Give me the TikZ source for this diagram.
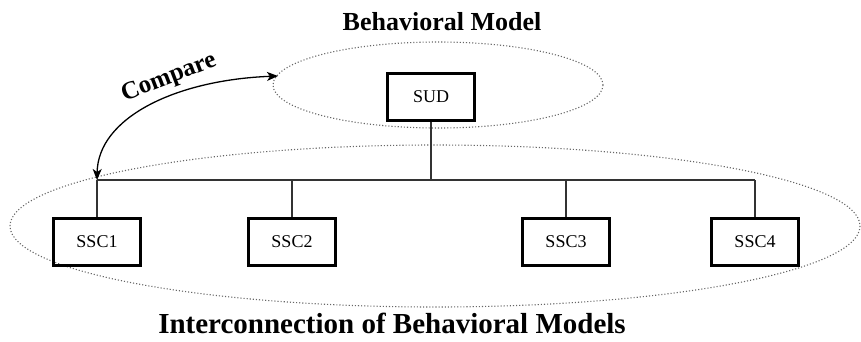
\documentclass[tikz,border=0pt]{standalone}
\usepackage{fontspec}
\setmainfont{Liberation Serif}
\usetikzlibrary{arrows.meta}
\begin{document}
\begin{tikzpicture}[x=1pt,y=-1pt,
  modbox/.style={draw=black,line width=2.4pt,minimum width=87pt,minimum height=47pt,inner sep=0pt,font=\fontsize{18}{18}\selectfont},
  wire/.style={draw=black!80,line width=1.2pt},
  region/.style={draw=black!60,line width=1.1pt,dotted},
  heading/.style={font=\bfseries\fontsize{26}{26}\selectfont},
  cmp/.style={black,line width=1.3pt,{Stealth[length=11pt,width=9pt,inset=3pt]}-{Stealth[length=11pt,width=9pt,inset=3pt]}}]
\useasboundingbox (0,0) rectangle (861,341);

% model regions
\draw[region] (438,85) ellipse [x radius=165, y radius=43];
\draw[region] (435,226) ellipse [x radius=425, y radius=81];

% headings
\node[heading] (top) at (442,22) {Behavioral Model};
\node[heading,font=\bfseries\fontsize{29}{29}\selectfont] (bottom) at (392,323) {Interconnection of Behavioral Models};

% components
\node[modbox] (sud) at (431,97) {SUD};
\node[modbox] (s1) at (97,242) {SSC1};
\node[modbox] (s2) at (292,242) {SSC2};
\node[modbox] (s3) at (566,242) {SSC3};
\node[modbox] (s4) at (755,242) {SSC4};

% bus
\coordinate (b0) at (431,180);
\coordinate (b1) at (97,180);
\coordinate (b2) at (292,180);
\coordinate (b3) at (566,180);
\coordinate (b4) at (755,180);
\draw[wire] (sud.south) -- (b0);
\draw[wire] (b1) -- (b4);
\draw[wire] (b1) -- (s1.north);
\draw[wire] (b2) -- (s2.north);
\draw[wire] (b3) -- (s3.north);
\draw[wire] (b4) -- (s4.north);

% comparison
\coordinate (ct) at (278,76);
\draw[cmp] (b1) .. controls (98,118) and (175,80) .. (ct);
\node[heading,rotate=21,font=\bfseries\fontsize{25}{25}\selectfont] (cmplabel) at (169,78) {Compare};
\end{tikzpicture}
\end{document}
